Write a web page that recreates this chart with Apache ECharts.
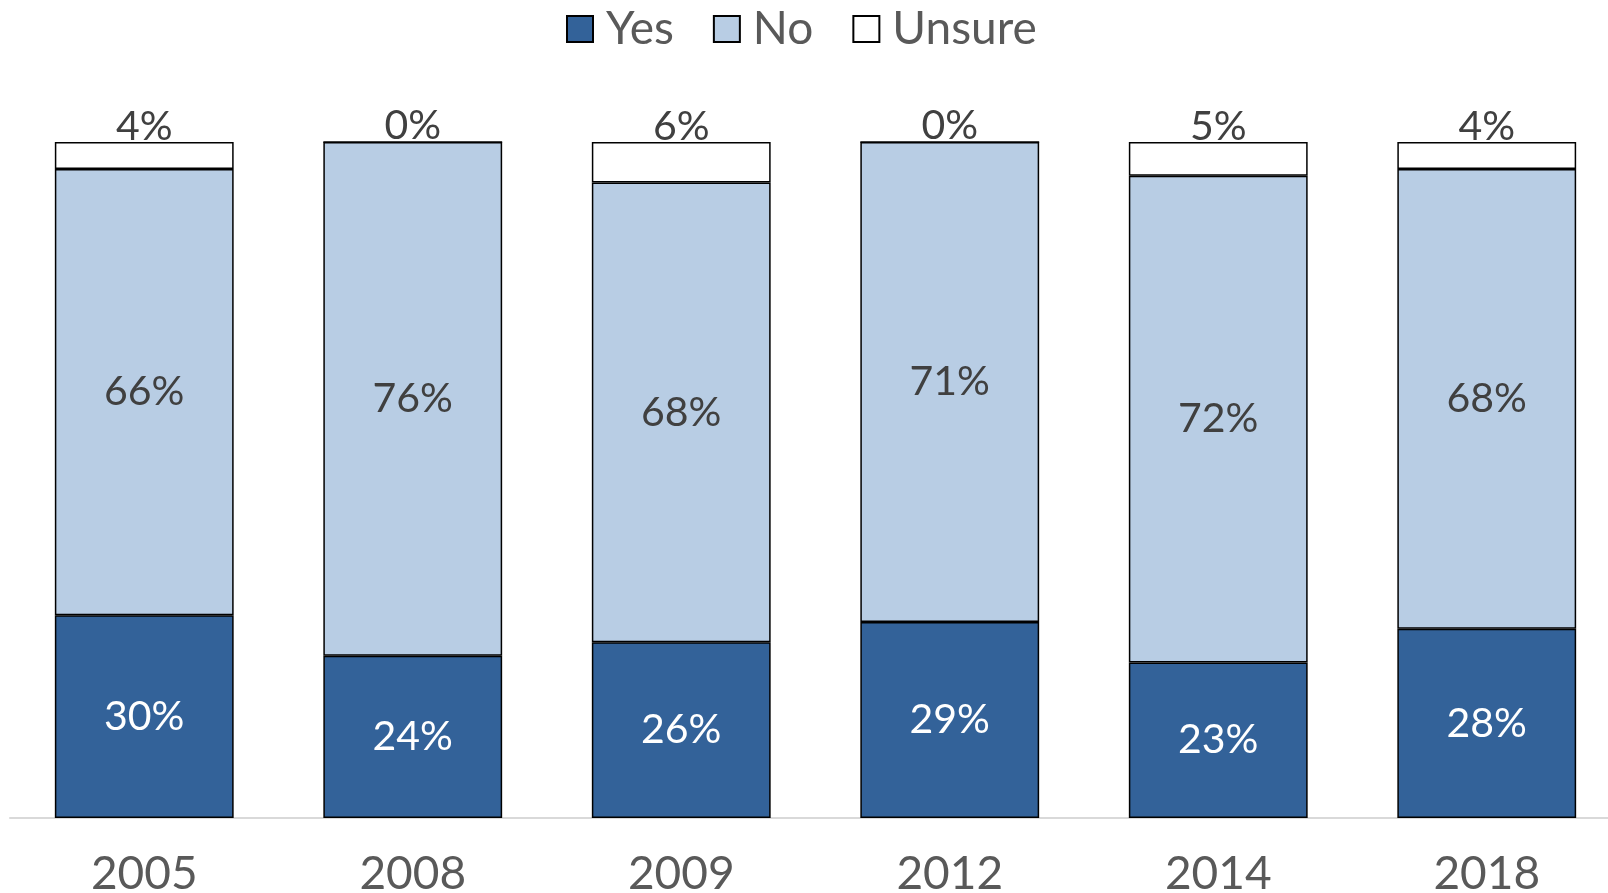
<!DOCTYPE html>
<html><head><meta charset="utf-8">
<script src="https://cdn.jsdelivr.net/npm/echarts@6/dist/echarts.min.js"></script>
<style>html,body{margin:0;padding:0;background:#fff}#c{width:1608px;height:893px}</style>
</head><body><div id="c"></div>
<script>
const categories = ['2005','2008','2009','2012','2014','2018'];
const yesValues = [30,24,26,29,23,28];
const noValues = [66,76,68,71,72,68];
const unsureValues = [4,0,6,0,5,4];
const seriesNames = ['Yes','No','Unsure'];

const FONT = 'Lato';
const chart = echarts.init(document.getElementById('c'), null, {renderer:'canvas'});
const pct = p => p.value + '%';
const border = {borderColor:'#000', borderWidth:1.5};
chart.setOption({
  animation:false,
  backgroundColor:'#fff',
  legend:{
    top:1, left:561, icon:'rect', itemWidth:26, itemHeight:26, itemGap:39,
    textStyle:{fontFamily:FONT, fontSize:46, color:'#595959', padding:[0,0,0,8]},
    data:seriesNames
  },
  grid:{left:10, width:1611, top:142, bottom:75, containLabel:false, outerBoundsMode:'none'},
  xAxis:{
    type:'category', data:categories,
    axisLine:{lineStyle:{color:'#d9d9d9', width:2}},
    axisTick:{show:false},
    axisLabel:{fontFamily:FONT, fontSize:46, color:'#595959', margin:33}
  },
  yAxis:{type:'value', min:0, max:100, show:false, splitLine:{show:false}},
  series:[
    {name:seriesNames[0], type:'bar', stack:'s', data:yesValues, barCategoryGap:'33.4%',
     itemStyle:Object.assign({color:'#336299'}, border),
     label:{show:true, position:'inside', formatter:pct, fontFamily:FONT, fontSize:41, color:'#ffffff'}},
    {name:seriesNames[1], type:'bar', stack:'s', data:noValues,
     itemStyle:Object.assign({color:'#b8cde4'}, border),
     label:{show:true, position:'inside', formatter:pct, fontFamily:FONT, fontSize:41, color:'#404040'}},
    {name:seriesNames[2], type:'bar', stack:'s', data:unsureValues,
     itemStyle:Object.assign({color:'#ffffff'}, border),
     label:{show:true, position:'top', distance:-5, formatter:pct, fontFamily:FONT, fontSize:41, color:'#404040'}}
  ]
});
</script></body></html>
